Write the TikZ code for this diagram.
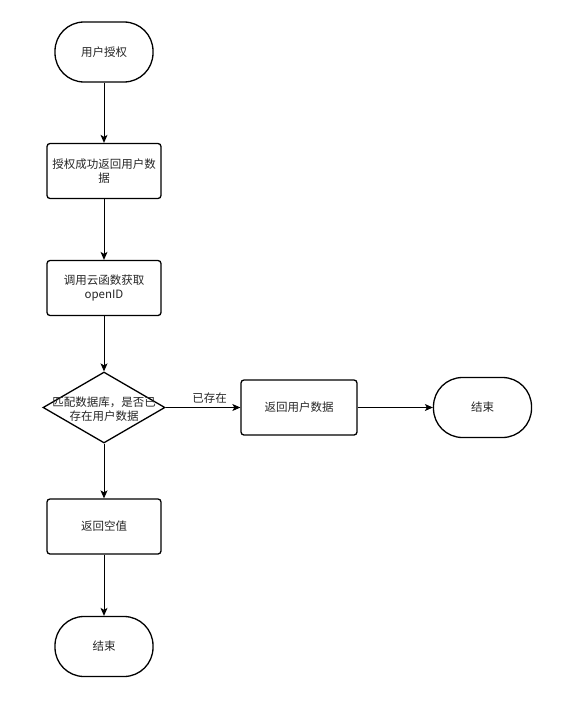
\documentclass[tikz,border=0pt]{standalone}
\usepackage{fontspec}
\setmainfont{Noto Sans CJK SC}
\usetikzlibrary{shapes.geometric,arrows.meta}
\begin{document}
\begin{tikzpicture}[x=1pt,y=-1pt,
  every node/.style={font=\fontsize{11.5pt}{14pt}\selectfont, text=black!85},
  term/.style={draw, line width=1.3pt, rounded corners=29pt, minimum width=98pt, minimum height=60pt, inner sep=0pt},
  proc/.style={draw, line width=1.3pt, rounded corners=3pt, minimum width=114pt, minimum height=55pt, inner sep=0pt, align=center},
  dec/.style={draw, line width=1.3pt, diamond, minimum width=122pt, minimum height=71pt, inner sep=0pt},
  arr/.style={draw, line width=0.9pt, -{Stealth[length=8pt,width=7pt,inset=2pt]}}
]
\useasboundingbox (0,0) rectangle (586,709);
\node[term] (start) at (104,52) {用户授权};
\node[proc] (auth) at (104,171) {授权成功返回用户数\\据};
\node[proc] (cloud) at (104,288) {调用云函数获取\\openID};
\node[dec] (match) at (104,407.5) {};
\node[align=center] (matchtext) at (104,409) {匹配数据库，是否已\\存在用户数据};
\node[proc, minimum width=116pt] (ret) at (299,407.5) {返回用户数据};
\node[term] (end1) at (482.5,407.5) {结束};
\node[proc] (empty) at (104,526.5) {返回空值};
\node[term] (end2) at (104,646.5) {结束};
\draw[arr] (start) -- (auth);
\draw[arr] (auth) -- (cloud);
\draw[arr] (cloud) -- (match);
\draw[arr] (match) -- node[pos=0.59, above=0pt] (lbl) {已存在} (ret);
\draw[arr] (ret) -- (end1);
\draw[arr] (match) -- (empty);
\draw[arr] (empty) -- (end2);
\end{tikzpicture}
\end{document}
